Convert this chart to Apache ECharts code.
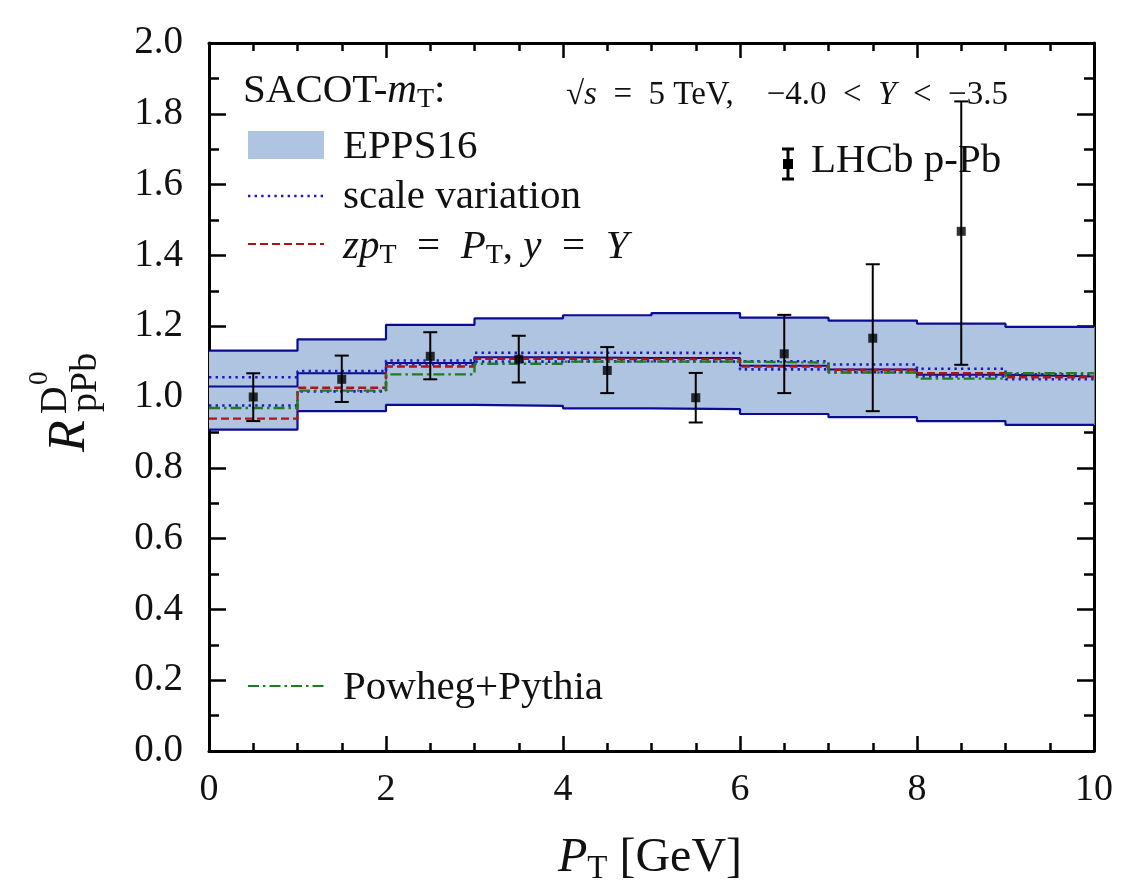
<!DOCTYPE html>
<html>
<head>
<meta charset="utf-8">
<script src="https://cdn.jsdelivr.net/npm/echarts@6/dist/echarts.min.js"></script>
<style>
html, body { margin: 0; padding: 0; background: #fff; }
#chart { width: 1127px; height: 891px; }
</style>
</head>
<body>
<div id="chart"></div>
<script>
// bin edges in P_T [GeV]
var binEdges = [0, 1, 2, 3, 4, 5, 6, 7, 8, 9, 10]
// SACOT-mT, EPPS16 band (per bin)
var eppsUpper = [1.131, 1.163, 1.204, 1.222, 1.231, 1.237, 1.224, 1.216, 1.207, 1.198]
var eppsLower = [0.908, 0.960, 0.978, 0.975, 0.968, 0.966, 0.952, 0.943, 0.932, 0.921]
var eppsCentral = [1.030, 1.067, 1.096, 1.112, 1.110, 1.110, 1.088, 1.078, 1.063, 1.058]
// scale variation (upper / lower)
var scaleUpper = [1.056, 1.073, 1.103, 1.125, 1.125, 1.124, 1.101, 1.092, 1.080, 1.064]
var scaleLower = [0.976, 1.016, 1.092, 1.100, 1.101, 1.100, 1.078, 1.070, 1.058, 1.050]
// zpT = PT, y = Y
var zpT = [0.939, 1.026, 1.086, 1.108, 1.107, 1.107, 1.086, 1.077, 1.067, 1.056]
// Powheg+Pythia
var powheg = [0.969, 1.018, 1.064, 1.094, 1.100, 1.100, 1.097, 1.069, 1.052, 1.067]
// LHCb p-Pb data
var lhcbX = [0.5, 1.5, 2.5, 3.5, 4.5, 5.5, 6.5, 7.5, 8.5]
var lhcbY = [1.000, 1.050, 1.115, 1.107, 1.075, 0.998, 1.122, 1.166, 1.468]
var lhcbLo = [0.932, 0.986, 1.050, 1.041, 1.011, 0.928, 1.011, 0.960, 1.091]
var lhcbHi = [1.067, 1.117, 1.183, 1.173, 1.141, 1.068, 1.232, 1.375, 1.835]

var font = '"Liberation Serif", "DejaVu Serif", serif'
var bandColor = '#afc4e0'
var navy = '#0b0b95'
var dotBlue = '#1a1ac4'
var red = '#b01414'
var green = '#1e7d1e'
var sp = '\u2002' // wider gap, like math spacing

function stepData(vals) {
    var d = vals.map(function (v, i) { return [binEdges[i], v] })
    d.push([binEdges[binEdges.length - 1], vals[vals.length - 1]])
    return d
}

function stepLine(name, vals, color, type, width) {
    return {
        name: name,
        type: 'line',
        step: 'end',
        data: stepData(vals),
        symbol: 'none',
        showSymbol: false,
        lineStyle: { color: color, width: width, type: type, cap: 'butt' },
        z: 3,
        silent: true
    }
}

var bandData = eppsUpper.map(function (u, i) {
    return [binEdges[i], binEdges[i + 1], eppsLower[i], u]
})
var errData = lhcbX.map(function (x, i) { return [x, lhcbLo[i], lhcbHi[i]] })
var pointData = lhcbX.map(function (x, i) { return [x, lhcbY[i]] })

var rich = {
    r: { fontFamily: font, fontSize: 41, lineHeight: 46, fill: '#111' },
    i: { fontFamily: font, fontSize: 41, fontStyle: 'italic', lineHeight: 46, fill: '#111' },
    s: { fontFamily: font, fontSize: 28, lineHeight: 23, verticalAlign: 'bottom', fill: '#111' }
}
var richSmall = {
    r: { fontFamily: font, fontSize: 33, lineHeight: 38, fill: '#111' },
    i: { fontFamily: font, fontSize: 33, fontStyle: 'italic', lineHeight: 38, fill: '#111' }
}
var richBig = {
    r: { fontFamily: font, fontSize: 48, lineHeight: 56, fill: '#111' },
    i: { fontFamily: font, fontSize: 48, fontStyle: 'italic', lineHeight: 56, fill: '#111' },
    s: { fontFamily: font, fontSize: 33, lineHeight: 30, verticalAlign: 'bottom', fill: '#111' }
}

function label(x, y, text, r) {
    return {
        type: 'text', x: x, y: y, silent: true,
        style: { text: text, rich: r || rich, align: 'left', verticalAlign: 'middle', fill: '#111' }
    }
}
function legLine(y, color, dash, width) {
    return {
        type: 'line', silent: true,
        shape: { x1: 248, y1: y, x2: 324, y2: y },
        style: { stroke: color, lineWidth: width, lineDash: dash }
    }
}

var chart = echarts.init(document.getElementById('chart'))
var option = {
    animation: false,
    backgroundColor: '#fff',
    grid: { left: 209, right: 33, top: 43, bottom: 140 },
    xAxis: [{
        type: 'value', min: 0, max: 10, interval: 2,
        axisLine: { show: true, onZero: false, lineStyle: { color: '#000', width: 3 } },
        axisTick: { show: true, inside: true, length: 15, lineStyle: { color: '#000', width: 2.5 } },
        minorTick: { show: true, splitNumber: 4, length: 8, lineStyle: { color: '#000', width: 2.5 } },
        axisLabel: { fontFamily: font, fontSize: 38, color: '#111', margin: 20 },
        splitLine: { show: false }
    }, {
        type: 'value', min: 0, max: 10, interval: 2, position: 'top',
        axisLine: { show: true, onZero: false, lineStyle: { color: '#000', width: 3 } },
        axisTick: { show: true, inside: true, length: 15, lineStyle: { color: '#000', width: 2.5 } },
        minorTick: { show: true, splitNumber: 4, length: 8, lineStyle: { color: '#000', width: 2.5 } },
        axisLabel: { show: false },
        splitLine: { show: false }
    }],
    yAxis: [{
        type: 'value', min: 0, max: 2, interval: 0.2,
        axisLine: { show: true, onZero: false, lineStyle: { color: '#000', width: 3 } },
        axisTick: { show: true, inside: true, length: 17, lineStyle: { color: '#000', width: 2.5 } },
        minorTick: { show: true, splitNumber: 2, length: 10, lineStyle: { color: '#000', width: 2.5 } },
        axisLabel: {
            fontFamily: font, fontSize: 39, color: '#111', margin: 26,
            formatter: function (v) { return v.toFixed(1) }
        },
        splitLine: { show: false }
    }, {
        type: 'value', min: 0, max: 2, interval: 0.2, position: 'right',
        axisLine: { show: true, onZero: false, lineStyle: { color: '#000', width: 3 } },
        axisTick: { show: true, inside: true, length: 17, lineStyle: { color: '#000', width: 2.5 } },
        minorTick: { show: true, splitNumber: 2, length: 10, lineStyle: { color: '#000', width: 2.5 } },
        axisLabel: { show: false },
        splitLine: { show: false }
    }],
    series: [
        {
            name: 'EPPS16',
            type: 'custom',
            data: bandData,
            encode: { x: [0, 1], y: [2, 3] },
            z: 1,
            silent: true,
            renderItem: function (params, api) {
                var p1 = api.coord([api.value(0), api.value(3)])
                var p2 = api.coord([api.value(1), api.value(2)])
                return {
                    type: 'rect',
                    shape: { x: p1[0], y: p1[1], width: p2[0] - p1[0] + 0.6, height: p2[1] - p1[1] },
                    style: { fill: bandColor }
                }
            }
        },
        stepLine('EPPS16 upper', eppsUpper, navy, 'solid', 2.2),
        stepLine('EPPS16 lower', eppsLower, navy, 'solid', 2.2),
        stepLine('EPPS16 central', eppsCentral, navy, 'solid', 2),
        stepLine('scale variation', scaleUpper, dotBlue, [2.4, 4.2], 2.6),
        stepLine('scale variation low', scaleLower, dotBlue, [2.4, 4.2], 2.6),
        stepLine('zpT', zpT, red, [8, 4], 2.4),
        stepLine('Powheg+Pythia', powheg, green, [11, 4, 2.5, 4], 2.4),
        {
            name: 'LHCb err',
            type: 'custom',
            data: errData,
            encode: { x: 0, y: [1, 2] },
            z: 5,
            silent: true,
            renderItem: function (params, api) {
                var top = api.coord([api.value(0), api.value(2)])
                var bot = api.coord([api.value(0), api.value(1)])
                var st = { stroke: '#000', lineWidth: 2 }
                return {
                    type: 'group',
                    children: [
                        { type: 'line', shape: { x1: top[0], y1: top[1], x2: bot[0], y2: bot[1] }, style: st },
                        { type: 'line', shape: { x1: top[0] - 7, y1: top[1], x2: top[0] + 7, y2: top[1] }, style: st },
                        { type: 'line', shape: { x1: bot[0] - 7, y1: bot[1], x2: bot[0] + 7, y2: bot[1] }, style: st }
                    ]
                }
            }
        },
        {
            name: 'LHCb p-Pb',
            type: 'scatter',
            data: pointData,
            symbol: 'rect',
            symbolSize: 9,
            itemStyle: { color: '#000' },
            z: 6,
            silent: true
        }
    ],
    graphic: [
        label(243, 91, '{r|SACOT-}{i|m}{s|T}{r|:}'),
        { type: 'rect', silent: true, shape: { x: 248, y: 131, width: 76, height: 28 }, style: { fill: bandColor } },
        label(343, 147, '{r|EPPS16}'),
        legLine(196, dotBlue, [2.4, 4.2], 2.4),
        label(343, 197, '{r|scale variation}'),
        legLine(244, red, [8, 4], 2.2),
        label(343, 247, '{i|zp}{s|T}{r|' + sp + '=' + sp + '}{i|P}{s|T}{r|, }{i|y}{r|' + sp + '=' + sp + '}{i|Y}'),
        legLine(686, green, [11, 4, 2.5, 4], 2.2),
        label(343, 688, '{r|Powheg+Pythia}'),
        label(566, 95, '{r|\u221A}{i|s}{r|' + sp + '=' + sp + '5 TeV,' + sp + sp + '\u22124.0' + sp + '<' + sp + '}{i|Y}{r|' + sp + '<' + sp + '\u22123.5}', richSmall),
        // LHCb legend marker
        { type: 'line', silent: true, shape: { x1: 788, y1: 149, x2: 788, y2: 179 }, style: { stroke: '#000', lineWidth: 3 } },
        { type: 'line', silent: true, shape: { x1: 782, y1: 149, x2: 794, y2: 149 }, style: { stroke: '#000', lineWidth: 3 } },
        { type: 'line', silent: true, shape: { x1: 782, y1: 179, x2: 794, y2: 179 }, style: { stroke: '#000', lineWidth: 3 } },
        { type: 'rect', silent: true, shape: { x: 783, y: 159, width: 10, height: 10 }, style: { fill: '#000' } },
        label(811, 161, '{r|LHCb p-Pb}'),
        // x axis title
        {
            type: 'text', x: 650, y: 858, silent: true,
            style: { text: '{i|P}{s|T}{r| [GeV]}', rich: richBig, align: 'center', verticalAlign: 'middle' }
        },
        // y axis title, rotated
        {
            type: 'group', x: 70, y: 452, rotation: Math.PI / 2, silent: true,
            children: [
                { type: 'text', x: 0, y: 0, style: { text: 'R', fontFamily: font, fontSize: 52, fontStyle: 'italic', fill: '#111', align: 'left', verticalAlign: 'middle' } },
                { type: 'text', x: 38, y: -14, style: { text: 'D', fontFamily: font, fontSize: 38, fill: '#111', align: 'left', verticalAlign: 'middle' } },
                { type: 'text', x: 67, y: -30, style: { text: '0', fontFamily: font, fontSize: 27, fill: '#111', align: 'left', verticalAlign: 'middle' } },
                { type: 'text', x: 40, y: 16, style: { text: 'pPb', fontFamily: font, fontSize: 38, fill: '#111', align: 'left', verticalAlign: 'middle' } }
            ]
        }
    ]
}
chart.setOption(option)
window.addEventListener('resize', function () { chart.resize() })
</script>
</body>
</html>
